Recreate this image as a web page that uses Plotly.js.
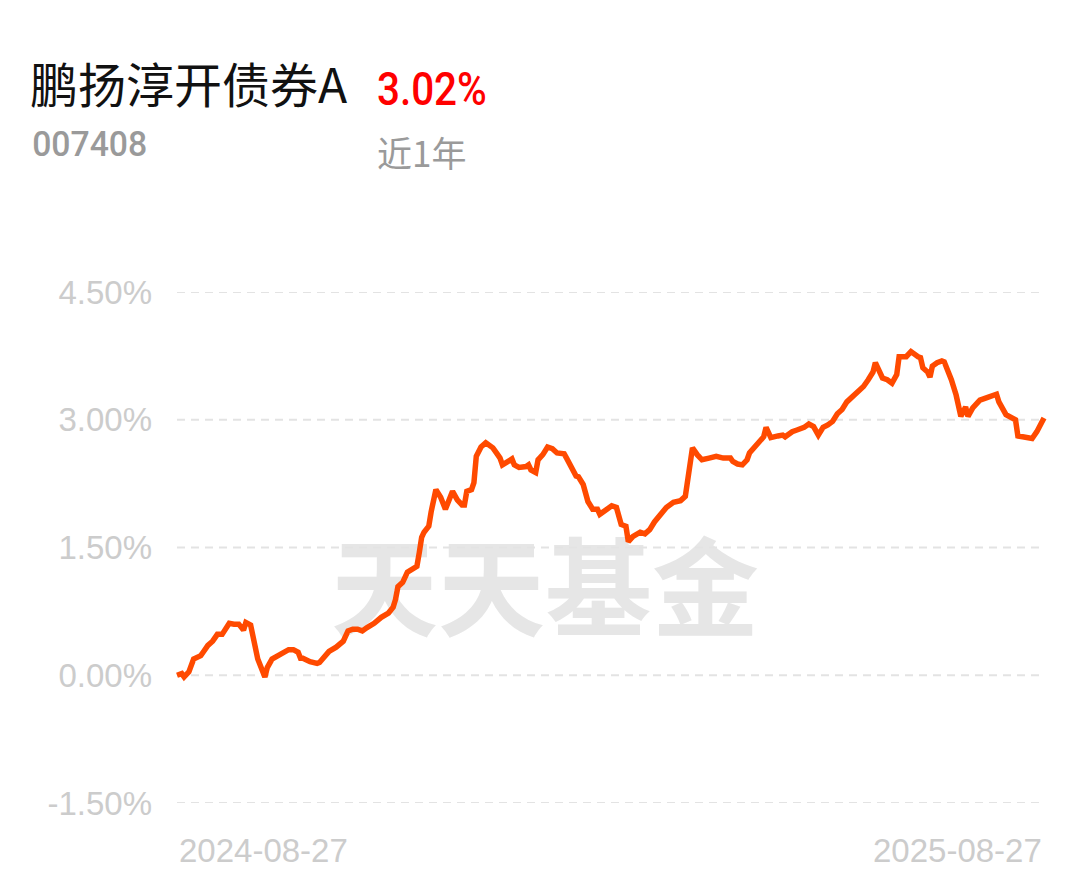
<!DOCTYPE html>
<html>
<head>
<meta charset="utf-8">
<script src="https://cdn.plot.ly/plotly-3.0.1.min.js"></script>
<style>
html,body{margin:0;padding:0;background:#fff;}
#chart{width:1089px;height:881px;}
</style>
</head>
<body>
<div id="chart"></div>
<script>
// ---- data ----
const fundName = "鹏扬淳开债券A";
const fundCode = "007408";
const periodReturn = "3.02%";
const periodLabel = "近1年";
const watermark = "天天基金";
const startDate = "2024-08-27";
const endDate = "2025-08-27";

// days since 2024-08-27
const days = [
  0,2,3,5,7,10,11,13,15,17,19,21,22,24,26,28,29,31,33,34,
  37,38,40,43,45,47,49,51,52,53,56,59,60,62,64,67,70,72,74,76,
  78,80,83,86,89,91,92,93,95,97,99,101,102,103,104,106,107,109,111,113,
  115,116,118,120,121,122,124,125,126,128,130,131,133,135,136,137,139,141,142,144,
  147,148,149,151,152,154,156,158,160,163,164,166,168,169,171,173,175,177,178,181,
  183,185,186,187,189,190,192,195,197,199,201,203,206,209,212,214,215,217,219,221,
  224,227,230,233,234,236,238,240,241,243,245,247,248,250,253,255,256,259,261,264,
  266,268,270,272,274,276,278,280,282,285,287,289,291,293,294,295,297,299,301,303,
  304,307,309,312,313,314,316,317,318,320,322,323,325,326,328,329,330,332,333,335,
  338,341,343,345,346,348,349,353,354,356,360,362,365
];
// cumulative return, %
const returns = [
  0.00,0.02,-0.02,0.04,0.19,0.23,0.27,0.35,0.40,0.48,0.48,0.55,0.61,0.60,0.60,0.53,0.62,0.59,0.34,0.19,
  -0.02,0.09,0.19,0.23,0.26,0.30,0.30,0.27,0.20,0.20,0.16,0.14,0.15,0.22,0.28,0.33,0.40,0.52,0.54,0.54,
  0.52,0.56,0.61,0.68,0.73,0.80,0.89,1.04,1.09,1.21,1.24,1.28,1.44,1.62,1.68,1.75,1.92,2.18,2.09,1.95,
  2.09,2.16,2.06,2.00,2.00,2.16,2.18,2.26,2.57,2.68,2.73,2.71,2.67,2.59,2.55,2.47,2.51,2.54,2.47,2.44,
  2.45,2.47,2.41,2.38,2.53,2.59,2.68,2.66,2.61,2.60,2.55,2.44,2.34,2.33,2.24,2.04,1.95,1.95,1.89,1.95,
  1.99,1.97,1.89,1.77,1.75,1.57,1.63,1.68,1.66,1.71,1.80,1.86,1.97,2.03,2.05,2.10,2.27,2.67,2.59,2.53,
  2.55,2.57,2.55,2.55,2.51,2.48,2.47,2.53,2.61,2.68,2.73,2.80,2.91,2.79,2.81,2.82,2.80,2.86,2.88,2.91,
  2.95,2.92,2.82,2.91,2.94,2.98,3.07,3.12,3.21,3.29,3.33,3.39,3.47,3.56,3.67,3.61,3.49,3.47,3.43,3.53,
  3.74,3.74,3.80,3.74,3.73,3.61,3.56,3.50,3.63,3.67,3.69,3.68,3.55,3.47,3.29,3.12,3.04,3.15,3.04,3.14,
  3.23,3.26,3.28,3.30,3.21,3.09,3.06,3.00,2.81,2.80,2.78,2.86,3.02
];
const yTicks = [-1.5, 0, 1.5, 3, 4.5];
const yTickLabels = ["-1.50%", "0.00%", "1.50%", "3.00%", "4.50%"];
const xTicks = [0, 365];
const xTickLabels = [startDate, endDate];

// ---- layout geometry ----
const W = 1089, H = 881;
const mL = 167, mR = 35, mT = 292, mB = 78;
const plotW = W - mL - mR, plotH = H - mT - mB;
const pad = 10 * (xTicks[1] - xTicks[0]) / (plotW - 20);
const xRange = [xTicks[0] - pad, xTicks[1] + pad];
const px2paperX = p => (p - mL) / plotW;
const px2paperY = p => (H - mB - p) / plotH;

const wmX = px2paperX(545), wmY = px2paperY(601);

const traces = [];
// watermark (base subplot, drawn first so everything sits above it)
traces.push({
  x: [wmX], y: [wmY], xaxis: 'x', yaxis: 'y',
  mode: 'text', text: [watermark], textposition: 'middle center',
  textfont: {family: '"Noto Sans CJK SC", sans-serif', size: 107, color: '#e6e6e6', weight: 700},
  hoverinfo: 'skip', showlegend: false, cliponaxis: false
});
// dashed grid lines from the tick values
yTicks.forEach(v => {
  traces.push({
    x: [xTicks[0], xTicks[1]], y: [v, v], xaxis: 'x2', yaxis: 'y2',
    mode: 'lines', line: {color: '#e3e3e3', width: 2, dash: '8px,6px'},
    hoverinfo: 'skip', showlegend: false
  });
});
// the return line
traces.push({
  x: days, y: returns, xaxis: 'x2', yaxis: 'y2',
  mode: 'lines', line: {color: '#ff4a00', width: 5.5, shape: 'linear'},
  hoverinfo: 'skip', showlegend: false
});

const layout = {
  width: W, height: H,
  margin: {l: mL, r: mR, t: mT, b: mB, pad: 0},
  paper_bgcolor: '#ffffff', plot_bgcolor: 'rgba(0,0,0,0)',
  showlegend: false,
  font: {family: '"Liberation Sans", Arial, sans-serif'},
  title: {
    text: fundName, xref: 'container', yref: 'container',
    x: 30 / W, xanchor: 'left', y: 1 - 86 / H, yanchor: 'middle',
    font: {family: '"Noto Sans CJK SC", sans-serif', size: 48, color: '#111111'}
  },
  xaxis: {range: [0, 1], visible: false, fixedrange: true},
  yaxis: {range: [0, 1], visible: false, fixedrange: true},
  xaxis2: {overlaying: 'x', range: xRange, visible: false, fixedrange: true},
  yaxis2: {
    overlaying: 'y', side: 'left', range: [yTicks[0], yTicks[yTicks.length - 1]],
    tickmode: 'array', tickvals: yTicks, ticktext: yTickLabels,
    showgrid: false, zeroline: false, showline: false, ticks: '',
    ticklabelstandoff: 14,
    tickfont: {family: '"Liberation Sans", Arial, sans-serif', size: 33, color: '#cccccc'},
    fixedrange: true
  },
  annotations: [
    {text: periodReturn, xref: 'paper', yref: 'paper', x: px2paperX(432), y: px2paperY(88),
     xanchor: 'center', yanchor: 'middle', showarrow: false, name: 'ret',
     font: {family: 'Roboto, "Liberation Sans", sans-serif', size: 47, color: '#ff0000', weight: 500}},
    {text: fundCode, xref: 'paper', yref: 'paper', x: px2paperX(89.5), y: px2paperY(145),
     xanchor: 'center', yanchor: 'middle', showarrow: false, name: 'code',
     font: {family: 'Roboto, "Liberation Sans", sans-serif', size: 35, color: '#9a9a9a', weight: 500}},
    {text: periodLabel, xref: 'paper', yref: 'paper', x: px2paperX(375), y: px2paperY(151),
     xanchor: 'left', yanchor: 'middle', showarrow: false,
     font: {family: '"Noto Sans CJK SC", sans-serif', size: 35, color: '#9a9a9a'}},
    {text: xTickLabels[0], xref: 'x2', yref: 'paper', x: xTicks[0], y: 0,
     xanchor: 'left', yanchor: 'middle', yshift: -47, showarrow: false,
     font: {family: '"Liberation Sans", sans-serif', size: 33, color: '#cccccc'}},
    {text: xTickLabels[1], xref: 'x2', yref: 'paper', x: xTicks[1], y: 0,
     xanchor: 'right', yanchor: 'middle', yshift: -47, showarrow: false,
     font: {family: '"Liberation Sans", sans-serif', size: 33, color: '#cccccc'}}
  ]
};

Plotly.newPlot('chart', traces, layout, {staticPlot: true, displayModeBar: false}).then(gd => {
  // condense the DIN-like figures to the reference widths (text stays real text)
  const targets = {};
  targets[periodReturn] = 110;
  targets[fundCode] = 115;
  gd.querySelectorAll('.annotation-text').forEach(t => {
    const w = targets[t.textContent];
    if (w) {
      t.setAttribute('textLength', w);
      t.setAttribute('lengthAdjust', 'spacingAndGlyphs');
    }
  });
});
</script>
</body>
</html>
